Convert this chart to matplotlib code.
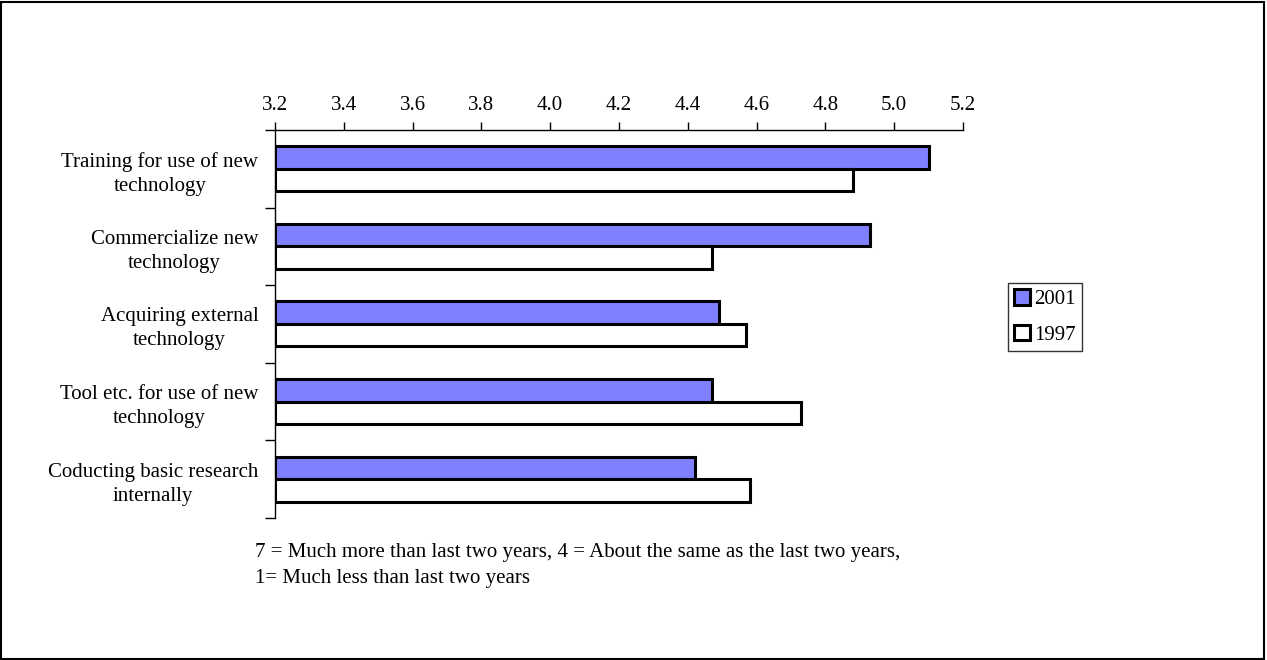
import matplotlib.pyplot as plt
import numpy as np
from matplotlib.patches import Rectangle

# survey scores, top to bottom as listed on the chart
categories = ['Training for use of new\ntechnology',
              'Commercialize new\ntechnology',
              'Acquiring external\ntechnology',
              'Tool etc. for use of new\ntechnology',
              'Coducting basic research\ninternally']
scores_2001 = [5.10, 4.93, 4.49, 4.47, 4.42]
scores_1997 = [4.88, 4.47, 4.57, 4.73, 4.58]
x_ticks = [3.2, 3.4, 3.6, 3.8, 4.0, 4.2, 4.4, 4.6, 4.8, 5.0, 5.2]
note_lines = ['7 = Much more than last two years, 4 = About the same as the last two years,',
              '1= Much less than last two years']

plt.rcParams['font.family'] = ['Liberation Serif', 'DejaVu Serif']
fs = 15

fig = plt.figure(figsize=(12.67, 6.6), dpi=100)
ax = fig.add_axes([0.2170, 0.2152, 0.5431, 0.5879])

y = np.arange(len(categories))
h = 0.29
ax.barh(y - h / 2, np.array(scores_2001) - 3.2, h, left=3.2,
        color='#8080FF', edgecolor='black', linewidth=2.2, label='2001')
ax.barh(y + h / 2, np.array(scores_1997) - 3.2, h, left=3.2,
        color='white', edgecolor='black', linewidth=2.2, label='1997')

ax.set_xlim(3.2, 5.2)
ax.set_ylim(len(categories) - 0.5, -0.5)
ax.set_xticks(x_ticks)
ax.set_xticklabels(['%.1f' % t for t in x_ticks])
ax.xaxis.tick_top()
ax.tick_params(axis='x', direction='out', length=6, width=1, labelsize=fs, pad=5)

# category boundaries get tick marks, labels sit at the group centres
ax.set_yticks(np.arange(len(categories) + 1) - 0.5)
ax.set_yticklabels([])
ax.set_yticks(y, minor=True)
ax.set_yticklabels(categories, minor=True, ha='right', multialignment='center',
                   linespacing=1.35)
ax.tick_params(axis='y', which='major', direction='out', length=7, width=1)
ax.tick_params(axis='y', which='minor', length=0, labelsize=fs, pad=12)

ax.spines['right'].set_visible(False)
ax.spines['bottom'].set_visible(False)
ax.spines['top'].set_linewidth(1)
ax.spines['left'].set_linewidth(1)

fig.legend(loc='upper left', bbox_to_anchor=(1008 / 1267, 1 - 283 / 660),
           frameon=True, fancybox=False, edgecolor='black', fontsize=fs,
           handlelength=0.75, handleheight=0.75, handletextpad=0.2,
           borderpad=0.3, borderaxespad=0, labelspacing=0.75)

for i, line in enumerate(note_lines):
    fig.text(255 / 1267, 1 - (552 + 26 * i) / 660, line, fontsize=fs, va='center')

# frame around the whole chart
fig.patches.append(Rectangle((0.001, 0.002), 0.997, 0.995, transform=fig.transFigure,
                             fill=False, edgecolor='black', linewidth=1.5))

fig.savefig('out.png', dpi=100)
